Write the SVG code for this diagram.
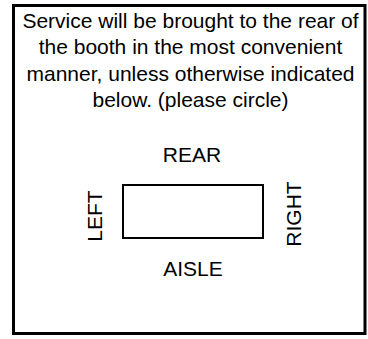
<svg xmlns="http://www.w3.org/2000/svg" width="368" height="339" viewBox="0 0 368 339">
<style>
text{font-family:"Liberation Sans",Arial,sans-serif;font-size:21px;fill:#000;text-anchor:middle}
</style>
<rect width="368" height="339" fill="#fff"/>
<g id="frame"><rect x="13.5" y="5.5" width="351.5" height="328" fill="none" stroke="#000" stroke-width="3"/></g>
<g id="note">
<text x="190.5" y="27.5">Service will be brought to the rear of</text>
<text x="190.5" y="54">the booth in the most convenient</text>
<text x="190.5" y="80.5">manner, unless otherwise indicated</text>
<text x="190.5" y="107">below. (please circle)</text>
</g>
<g id="booth"><rect x="123" y="185" width="140" height="53" fill="none" stroke="#000" stroke-width="2"/></g>
<g id="rear"><text x="192" y="162">REAR</text></g>
<g id="aisle"><text x="193" y="276">AISLE</text></g>
<g id="left"><text transform="translate(102,216) rotate(-90)">LEFT</text></g>
<g id="right"><text transform="translate(301,214) rotate(-90)">RIGHT</text></g>
<g id="connectors"/>
</svg>
